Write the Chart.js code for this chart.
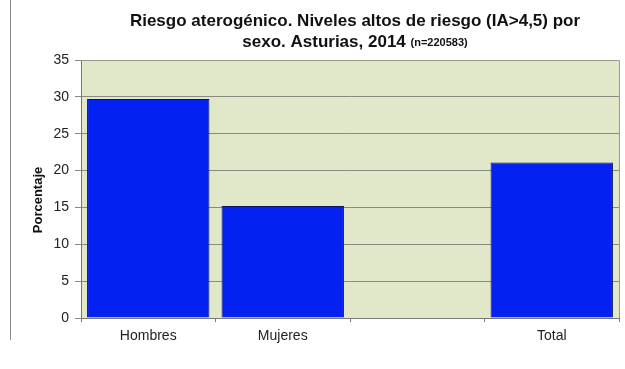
<!DOCTYPE html>
<html>
<head>
<meta charset="utf-8">
<script src="https://cdn.jsdelivr.net/npm/chart.js@4"></script>
<style>
  html, body { margin: 0; padding: 0; background: #fff; }
  #wrap { width: 625px; height: 369px; position: relative; }
</style>
</head>
<body>
<div id="wrap"><canvas id="myChart" width="625" height="369"></canvas></div>
<script>
var categorias = ['Hombres', 'Mujeres', '', 'Total'];
var porcentajes = [29.7, 15.2, null, 21.1];
var ticksY = [0, 5, 10, 15, 20, 25, 30, 35];

var FUENTE = '"Liberation Sans", Arial, sans-serif';

// fondo del área de trazado, marco, título en dos tamaños y rótulo del eje Y
var fondoPlot = {
  id: 'fondoPlot',
  beforeDraw: function (chart) {
    var c = chart.ctx, a = chart.chartArea;
    c.save();
    c.fillStyle = '#fff';
    c.fillRect(0, 0, chart.width, chart.height);
    c.fillStyle = '#E1E7C9';
    c.fillRect(a.left, a.top, a.right - a.left, a.bottom - a.top);
    c.restore();
  },
  afterDraw: function (chart) {
    var c = chart.ctx, a = chart.chartArea;
    c.save();
    c.strokeStyle = '#9a9a8a';
    c.lineWidth = 1;
    c.beginPath();
    c.moveTo(a.left, a.top + 0.5);
    c.lineTo(a.right + 0.5, a.top + 0.5);
    c.lineTo(a.right + 0.5, a.bottom);
    c.stroke();
    // línea del borde izquierdo
    c.strokeStyle = '#8c8c8c';
    c.beginPath();
    c.moveTo(10.5, 0);
    c.lineTo(10.5, 340);
    c.stroke();

    c.fillStyle = '#111';
    c.textBaseline = 'middle';
    c.textAlign = 'center';
    c.font = 'bold 17px ' + FUENTE;
    c.fillText('Riesgo aterogénico. Niveles altos de riesgo (IA>4,5) por', 355, 21);
    var t1 = 'sexo. Asturias, 2014 ';
    var t2 = '(n=220583)';
    var w1 = c.measureText(t1).width;
    c.font = 'bold 11px ' + FUENTE;
    var w2 = c.measureText(t2).width;
    var x0 = 355 - (w1 + w2) / 2;
    c.textAlign = 'left';
    c.font = 'bold 17px ' + FUENTE;
    c.fillText(t1, x0, 42);
    c.font = 'bold 11px ' + FUENTE;
    c.fillText(t2, x0 + w1, 43);

    // rótulo vertical del eje Y
    c.translate(38, 200);
    c.rotate(-Math.PI / 2);
    c.textAlign = 'center';
    c.font = 'bold 13px ' + FUENTE;
    c.fillText('Porcentaje', 0, 0);
    c.restore();
  }
};

var ctx = document.getElementById('myChart');

var myChart = new Chart(ctx, {
  type: 'bar',
  data: {
    labels: categorias,
    datasets: [{
      label: 'Porcentaje',
      data: porcentajes,
      backgroundColor: '#0521F2',
      borderColor: '#0A1560',
      borderWidth: 1,
      barPercentage: 0.91,
      categoryPercentage: 1
    }]
  },
  plugins: [fondoPlot],
  options: {
    responsive: false,
    animation: false,
    layout: { padding: { top: 60, right: 6, bottom: 0, left: 0 } },
    plugins: {
      legend: { display: false },
      title: { display: false },
      tooltip: { enabled: false }
    },
    scales: {
      x: {
        afterFit: function (axis) { axis.height = 51; },
        grid: {
          offset: true,
          drawOnChartArea: false,
          color: '#777',
          tickLength: 4
        },
        border: { color: '#777' },
        ticks: {
          color: '#222',
          font: { family: FUENTE, size: 14 },
          padding: 6
        }
      },
      y: {
        min: 0,
        max: 35,
        afterBuildTicks: function (axis) {
          axis.ticks = ticksY.map(function (v) { return { value: v }; });
        },
        afterFit: function (axis) { axis.width = 81; },
        grid: {
          color: '#8a8a7e',
          tickLength: 6
        },
        border: { color: '#777' },
        ticks: {
          color: '#222',
          font: { family: FUENTE, size: 14 },
          padding: 6
        }
      }
    }
  }
});
</script>
</body>
</html>
